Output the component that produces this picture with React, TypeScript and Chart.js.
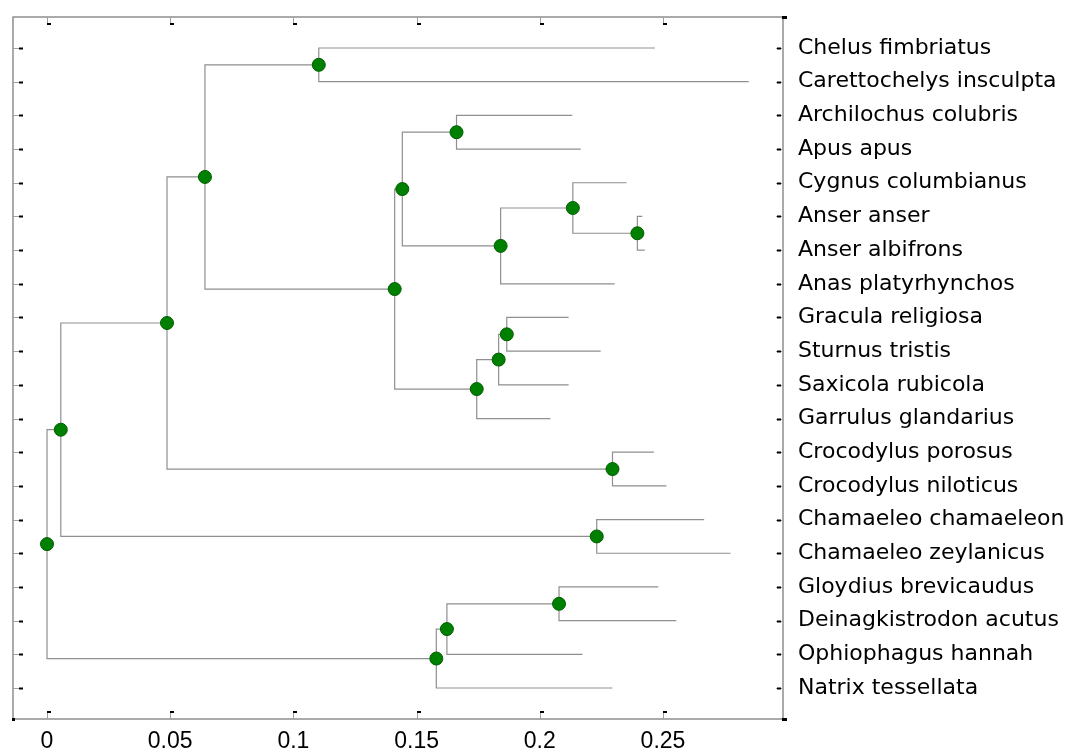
import React, { useEffect, useRef } from "react";
import { Chart, registerables } from "chart.js";

Chart.register(...registerables);

// Leaves, top to bottom
const leafNames: string[] = [
  "Chelus fimbriatus",
  "Carettochelys insculpta",
  "Archilochus colubris",
  "Apus apus",
  "Cygnus columbianus",
  "Anser anser",
  "Anser albifrons",
  "Anas platyrhynchos",
  "Gracula religiosa",
  "Sturnus tristis",
  "Saxicola rubicola",
  "Garrulus glandarius",
  "Crocodylus porosus",
  "Crocodylus niloticus",
  "Chamaeleo chamaeleon",
  "Chamaeleo zeylanicus",
  "Gloydius brevicaudus",
  "Deinagkistrodon acutus",
  "Ophiophagus hannah",
  "Natrix tessellata",
];

// Distance from root to each leaf tip
const leafDepths: number[] = [
  0.2467, 0.2848, 0.2132, 0.2166, 0.2352, 0.2416, 0.2426, 0.2304, 0.2117, 0.2247,
  0.2117, 0.2043, 0.2463, 0.2514, 0.2667, 0.2774, 0.2481, 0.2554, 0.2173, 0.2295,
];

// Distance from root to each internal node
const nodeDepths: number[] = [
  0.0, 0.0056, 0.0487, 0.0641, 0.1103, 0.1411, 0.1442, 0.1662, 0.1841, 0.2134,
  0.2396, 0.1744, 0.1833, 0.1866, 0.2295, 0.2231, 0.158, 0.1623, 0.2078,
];

// Children of each internal node ("L" = leaf index, "N" = internal node index)
const nodeChildren: [string, string][] = [
  ["N1", "N16"],
  ["N2", "N15"],
  ["N3", "N14"],
  ["N4", "N5"],
  ["L0", "L1"],
  ["N6", "N11"],
  ["N7", "N8"],
  ["L2", "L3"],
  ["N9", "L7"],
  ["L4", "N10"],
  ["L5", "L6"],
  ["N12", "L11"],
  ["N13", "L10"],
  ["L8", "L9"],
  ["L12", "L13"],
  ["L14", "L15"],
  ["N17", "L19"],
  ["N18", "L18"],
  ["L16", "L17"],
];

const xTickValues: number[] = [0, 0.05, 0.1, 0.15, 0.2, 0.25];
const xTickLabels: string[] = ["0", "0.05", "0.1", "0.15", "0.2", "0.25"];
const xMin = -0.0138;
const xMax = 0.2987;
const yMin = 0.08;
const yMax = 20.92;

function buildTree() {
  const nodeY: (number | undefined)[] = new Array(nodeDepths.length).fill(undefined);
  const getY = (ref: string): number => {
    const idx = parseInt(ref.slice(1), 10);
    if (ref[0] === "L") return idx + 1;
    if (nodeY[idx] === undefined) {
      const [a, b] = nodeChildren[idx];
      nodeY[idx] = (getY(a) + getY(b)) / 2;
    }
    return nodeY[idx] as number;
  };
  const getX = (ref: string): number => {
    const idx = parseInt(ref.slice(1), 10);
    return ref[0] === "L" ? leafDepths[idx] : nodeDepths[idx];
  };
  const brackets = nodeChildren.map(([a, b], i) => {
    const d = nodeDepths[i];
    return [
      { x: getX(a), y: getY(a) },
      { x: d, y: getY(a) },
      { x: d, y: getY(b) },
      { x: getX(b), y: getY(b) },
    ];
  });
  const nodes = nodeDepths.map((d, i) => ({ x: d, y: getY("N" + i) }));
  return { brackets, nodes };
}

const framePlugin = {
  id: "frameTicks",
  afterDraw(chart: any) {
    const { ctx, chartArea: a, scales } = chart;
    ctx.save();
    ctx.strokeStyle = "#8e8e8e";
    ctx.lineWidth = 1.5;
    ctx.strokeRect(a.left, a.top, a.right - a.left, a.bottom - a.top);

    // y ticks (left and right)
    for (let i = 1; i <= leafNames.length; i++) {
      const y = Math.round(scales.y.getPixelForValue(i));
      ctx.strokeStyle = "#a0a0a0";
      ctx.lineWidth = 1;
      ctx.beginPath();
      ctx.moveTo(a.left, y + 0.5);
      ctx.lineTo(a.left + 6, y + 0.5);
      ctx.moveTo(a.right - 7, y + 0.5);
      ctx.lineTo(a.right, y + 0.5);
      ctx.stroke();
      ctx.fillStyle = "#000";
      ctx.fillRect(a.left + 6, y - 0.5, 4, 2);
      ctx.fillRect(a.right - 6, y - 0.5, 4, 2);
    }
    // x ticks (top and bottom)
    for (const v of xTickValues) {
      const x = Math.round(scales.x.getPixelForValue(v));
      ctx.strokeStyle = "#a0a0a0";
      ctx.lineWidth = 1;
      ctx.beginPath();
      ctx.moveTo(x + 0.5, a.top);
      ctx.lineTo(x + 0.5, a.top + 7);
      ctx.moveTo(x + 0.5, a.bottom);
      ctx.lineTo(x + 0.5, a.bottom - 8);
      ctx.stroke();
      ctx.fillStyle = "#000";
      ctx.fillRect(x, a.top + 6, 4, 2);
      ctx.fillRect(x, a.bottom - 8, 4, 2);
    }
    // corner marks
    ctx.fillStyle = "#000";
    ctx.fillRect(a.right - 1, a.top - 1, 5, 3);
    ctx.fillRect(a.right - 1, a.bottom - 1, 5, 3);
    ctx.fillRect(a.left - 1, a.bottom - 1, 3, 3);
    ctx.restore();
  },
};

export default function App() {
  const canvasRef = useRef<HTMLCanvasElement | null>(null);

  useEffect(() => {
    if (!canvasRef.current) return;
    const { brackets, nodes } = buildTree();

    const lineSets = brackets.map((pts) => ({
      type: "line" as const,
      data: pts,
      showLine: true,
      borderColor: "#8f8f8f",
      borderWidth: 1.2,
      pointRadius: 0,
      tension: 0,
      fill: false,
      order: 1,
    }));

    const chart = new Chart(canvasRef.current, {
      type: "scatter",
      data: {
        datasets: [
          {
            type: "scatter" as const,
            data: nodes,
            pointRadius: 6.5,
            pointBackgroundColor: "#008000",
            pointBorderColor: "#005c00",
            pointBorderWidth: 1,
            order: 0,
          } as any,
          ...lineSets,
        ],
      },
      options: {
        animation: false,
        responsive: true,
        maintainAspectRatio: false,
        layout: { padding: { left: 13, top: 17, right: 0, bottom: 0 } },
        plugins: {
          legend: { display: false },
          tooltip: { enabled: false },
        },
        scales: {
          x: {
            type: "linear",
            position: "bottom",
            min: xMin,
            max: xMax,
            grid: { display: false, drawTicks: false },
            border: { display: false },
            afterBuildTicks: (scale: any) => {
              scale.ticks = xTickValues.map((v) => ({ value: v }));
            },
            afterFit: (scale: any) => {
              scale.height = 32;
              scale.paddingLeft = 0;
              scale.paddingRight = 0;
            },
            ticks: {
              autoSkip: false,
              maxRotation: 0,
              padding: 9,
              color: "#000",
              font: { family: "'Liberation Sans', Arial, sans-serif", size: 23 },
              callback: (value: any) => {
                const i = xTickValues.indexOf(Number(value));
                return i >= 0 ? xTickLabels[i] : "";
              },
            },
          },
          y: {
            type: "linear",
            position: "right",
            reverse: true,
            min: yMin,
            max: yMax,
            grid: { display: false, drawTicks: false },
            border: { display: false },
            afterBuildTicks: (scale: any) => {
              scale.ticks = leafNames.map((_, i) => ({ value: i + 1 }));
            },
            afterFit: (scale: any) => {
              scale.width = 288;
              scale.paddingTop = 0;
              scale.paddingBottom = 0;
            },
            ticks: {
              autoSkip: false,
              padding: 15,
              color: "#000",
              font: { family: "'DejaVu Sans', sans-serif", size: 22 },
              callback: (value: any) => leafNames[Number(value) - 1] ?? "",
            },
          },
        },
      },
      plugins: [framePlugin],
    } as any);

    return () => chart.destroy();
  }, []);

  return (
    <div
      style={{
        position: "absolute",
        left: 0,
        top: 0,
        width: "1071px",
        height: "751px",
        background: "#fff",
      }}
    >
      <canvas ref={canvasRef} />
    </div>
  );
}
